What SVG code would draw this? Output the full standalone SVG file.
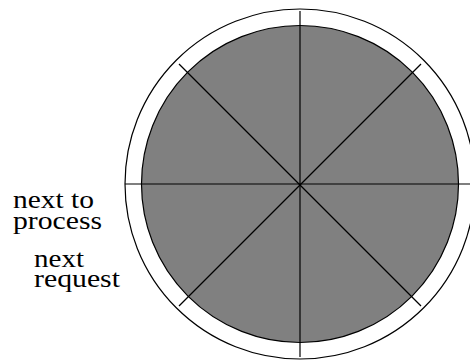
<svg xmlns="http://www.w3.org/2000/svg" width="470" height="362" viewBox="0 0 470 362">
<style>
.ring{fill:#ffffff;stroke:#000;stroke-width:1.2}
.disk{fill:#808080;stroke:#000;stroke-width:1.2}
.spoke{stroke:#000;stroke-width:1.2;fill:none}
.lbl{font-family:"Liberation Serif","Times New Roman",serif;font-size:26px;fill:#000}
</style>
<rect width="470" height="362" fill="#ffffff"/>
<g id="outer-ring"><circle class="ring" cx="300" cy="184" r="175"/></g>
<g id="disk"><circle class="disk" cx="300" cy="184" r="158.5"/></g>
<g id="spokes">
<line class="spoke" x1="300" y1="11" x2="300" y2="357"/>
<line class="spoke" x1="125" y1="184" x2="472" y2="184"/>
<line class="spoke" x1="179" y1="64" x2="421" y2="306"/>
<line class="spoke" x1="421" y1="64" x2="179" y2="306"/>
</g>
<g id="label-next-to-process">
<text class="lbl" x="13" y="208" textLength="81" lengthAdjust="spacingAndGlyphs">next to</text>
<text class="lbl" x="13" y="228.5" textLength="89" lengthAdjust="spacingAndGlyphs">process</text>
</g>
<g id="label-next-request">
<text class="lbl" x="34" y="267" textLength="50" lengthAdjust="spacingAndGlyphs">next</text>
<text class="lbl" x="34" y="287" textLength="86" lengthAdjust="spacingAndGlyphs">request</text>
</g>
</svg>
